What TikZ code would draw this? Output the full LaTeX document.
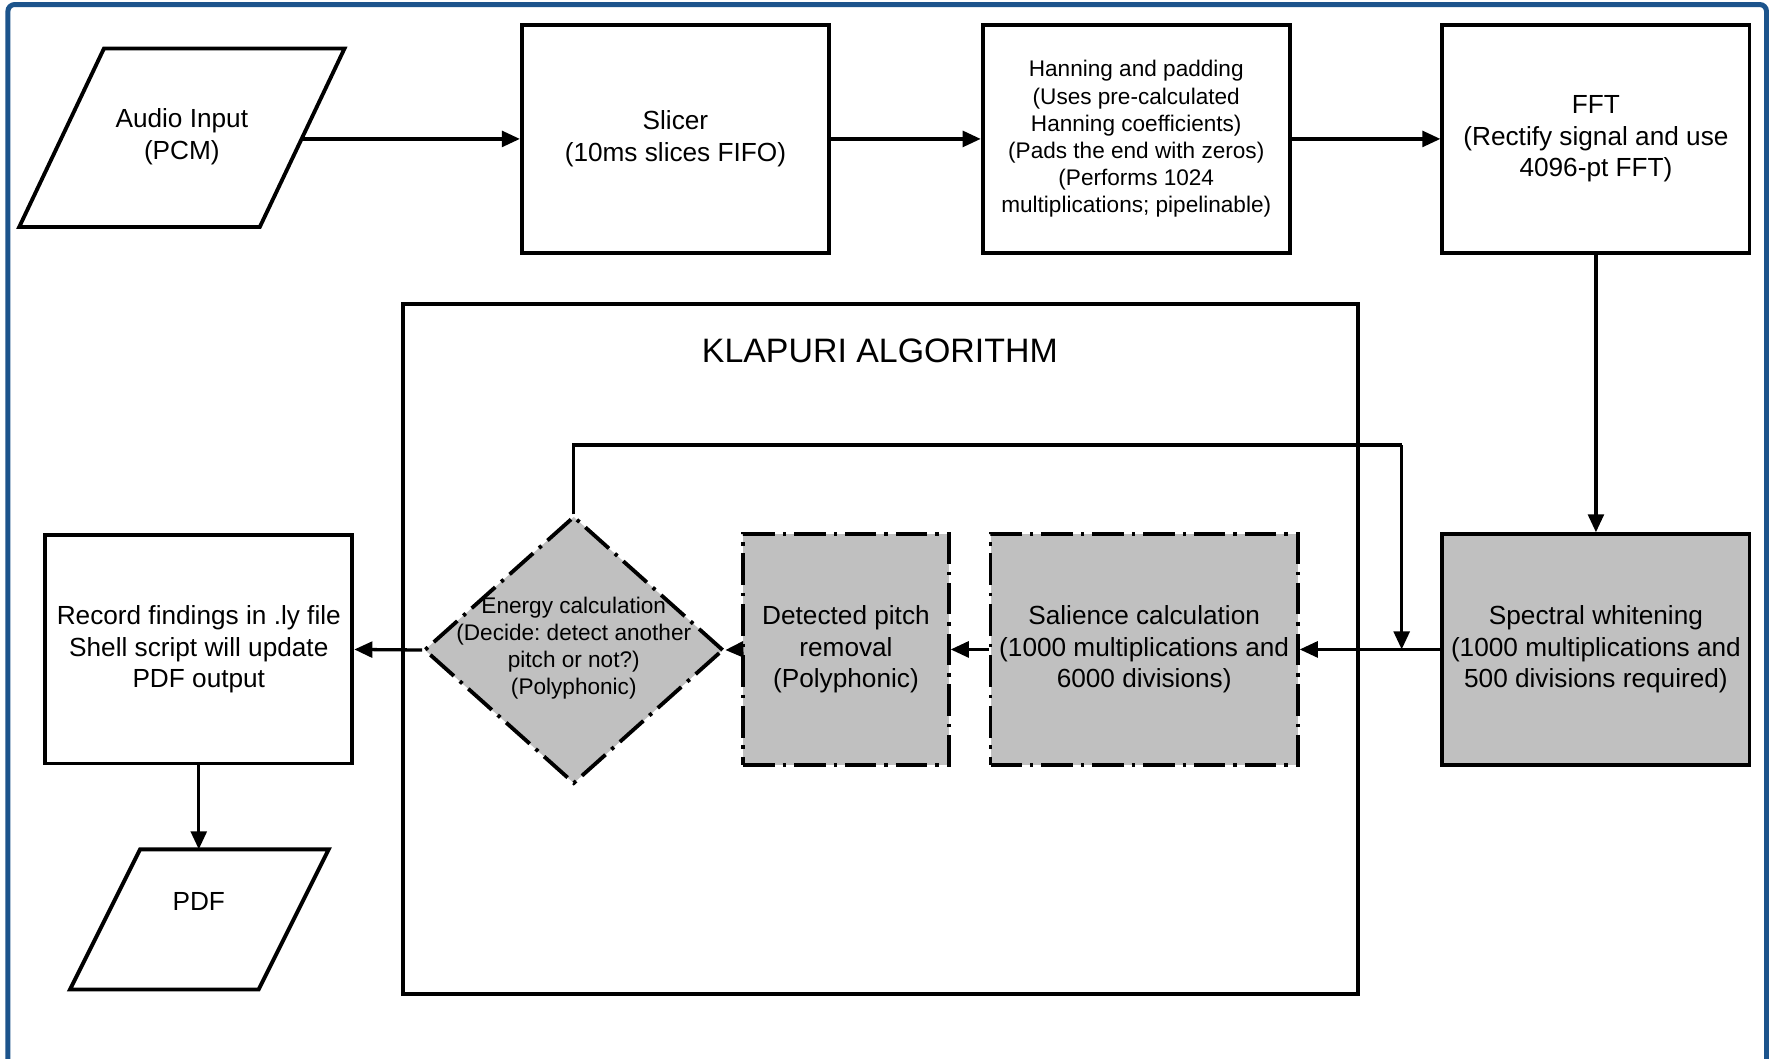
\documentclass[tikz,border=0pt]{standalone}
\usepackage{fontspec}
\setmainfont{Liberation Sans}
\usetikzlibrary{shapes.geometric,arrows.meta}
\definecolor{frameblue}{RGB}{28,84,140}
\definecolor{boxgray}{RGB}{192,192,192}
\frenchspacing
\begin{document}
\begin{tikzpicture}[x=0.5pt,y=-0.5pt,
  mainfont/.style={font=\fontsize{11.6}{14}\selectfont},
  smallfont/.style={font=\fontsize{10}{12}\selectfont},
  box/.style={draw, line width=1.7pt, minimum width=136pt, minimum height=101pt, inner sep=0pt, align=center, mainfont},
  graybox/.style={box, fill=boxgray},
  dashdot/.style={dash pattern=on 14pt off 3.5pt on 1.5pt off 3.5pt},
  shapeline/.style={draw, line width=1.7pt, line join=miter},
  txt/.style={align=center, inner sep=0pt},
  arr/.style={line width=1.45pt, -{Triangle[length=8pt,width=7pt]}},
  ln/.style={line width=1.45pt}
]
\useasboundingbox (0,0) rectangle (1568,937);
\fill[white] (0,0) rectangle (1568,937);
% outer frame
\draw[frameblue, line width=2.2pt, rounded corners=3pt] (7,960) -- (7,4) -- (1564,4) -- (1564,960);

% Klapuri container
\draw[line width=1.7pt] (357,269) rectangle (1202,880);
\node[txt, font=\fontsize{15}{18}\selectfont] (ktitle) at (779,311) {KLAPURI ALGORITHM};

% top row
\draw[shapeline] (92,43) -- (305,43) -- (230,201) -- (17,201) -- cycle;
\node[txt, mainfont] (audio) at (161,121) {Audio Input\\(PCM)};
\coordinate (audioE) at (267,123);

\node[box] (slicer) at (598,123) {Slicer\\(10ms slices FIFO)};
\node[box, font=\fontsize{10}{12}\selectfont] (hanning) at (1006,123) {Hanning and padding\\(Uses pre-calculated\\Hanning coefficients)\\(Pads the end with zeros)\\(Performs 1024\\multiplications; pipelinable)};
\node[box] (fft) at (1413,123) {FFT\\(Rectify signal and use\\4096-pt FFT)};

% middle row
\node[graybox, minimum height=102pt] (spectral) at (1413,575) {Spectral whitening\\(1000 multiplications and\\500 divisions required)};
\node[graybox, dashdot, minimum height=102pt] (salience) at (1013,575) {Salience calculation\\(1000 multiplications and\\6000 divisions)};
\node[graybox, dashdot, minimum width=91pt, minimum height=102pt] (detect) at (749,575) {Detected pitch\\removal\\(Polyphonic)};
\node[diamond, draw, line width=1.7pt, dashdot, fill=boxgray, minimum width=132.5pt, minimum height=118.5pt, inner sep=0pt] (dia) at (508,575.5) {};
\node[txt, smallfont] (diatext) at (508,574) {Energy calculation\\(Decide: detect another\\pitch or not?)\\(Polyphonic)};
\node[box] (record) at (176,575) {Record findings in .ly file\\Shell script will update\\PDF output};

% PDF output
\draw[shapeline] (124,752) -- (291,752) -- (229,876) -- (62,876) -- cycle;
\node[txt, mainfont] (pdf) at (176,798) {PDF};
\coordinate (pdfN) at (176,752);

% connectors
\draw[arr] (audioE) -- (slicer.west);
\draw[arr] (slicer.east) -- (hanning.west);
\draw[arr] (hanning.east) -- (fft.west);
\draw[arr] (fft.south) -- (spectral.north);
\draw[arr] (spectral.west) -- (salience.east);
\draw[arr] (salience.west) -- (detect.east);
\draw[arr] (detect.west) -- (dia.east);
\draw[arr] (dia.west) -- (record.east);
\draw[arr] (record.south) -- (pdfN);
\coordinate (fbturn) at (1241,394);
\coordinate (fbend) at (1241,575);
\draw[ln] (dia.north) |- (fbturn);
\draw[arr] (fbturn) -- (fbend);
\end{tikzpicture}
\end{document}
